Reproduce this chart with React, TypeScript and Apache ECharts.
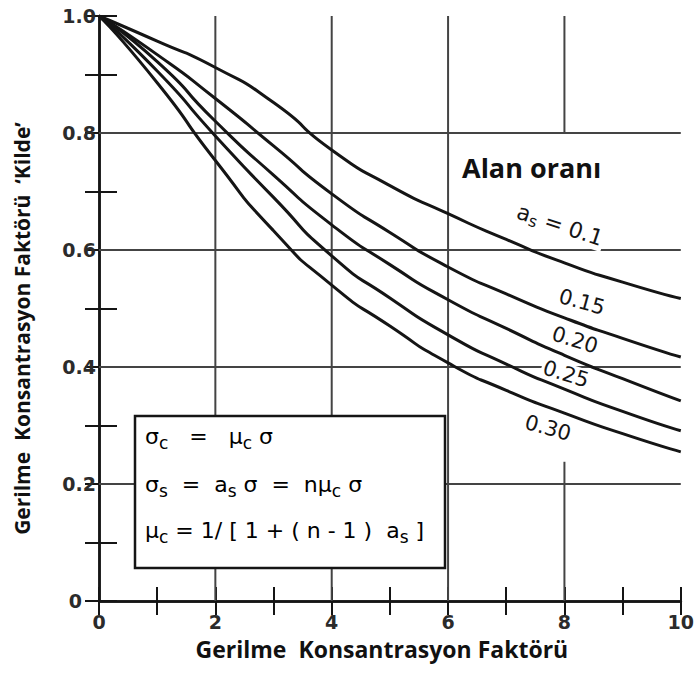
import React, { useEffect, useRef } from "react";
import * as echarts from "echarts";

// ---- data ----
const xs = [0, 1, 2, 3, 4, 5, 6, 7, 8, 9, 10];
const curve010 = [1, 0.957, 0.912, 0.852, 0.771, 0.71, 0.662, 0.618, 0.578, 0.545, 0.517];
const curve015 = [1, 0.934, 0.859, 0.778, 0.696, 0.63, 0.571, 0.525, 0.484, 0.449, 0.417];
const curve020 = [1, 0.922, 0.82, 0.728, 0.643, 0.575, 0.515, 0.466, 0.42, 0.38, 0.342];
const curve025 = [1, 0.906, 0.795, 0.69, 0.59, 0.518, 0.455, 0.405, 0.362, 0.324, 0.291];
const curve030 = [1, 0.886, 0.753, 0.633, 0.54, 0.47, 0.407, 0.36, 0.321, 0.286, 0.255];
const curves = [curve010, curve015, curve020, curve025, curve030];

// grid line segments: vertical [x, yFrom, yTo], horizontal [y, xFrom, xTo]
const gridV = [[2, 0, 1], [4, 0, 1], [6, 0, 1], [8, 0.8, 1], [8, 0, 0.238]];
const gridH = [[0.2, 0, 10], [0.4, 0, 10], [0.6, 0, 10], [0.8, 0, 10]];

const xTickLabels = ["0", "2", "4", "6", "8", "10"];

const HAND = "DejaVu Sans";
const BOLD = "Open Sans";
const INK = "#151515";

export default function App() {
  const ref = useRef<HTMLDivElement>(null);

  useEffect(() => {
    if (!ref.current) return;
    const chart = echarts.init(ref.current, undefined, { renderer: "svg" });

    const gridSeries: any[] = [];
    gridV.forEach(([x, y0, y1]) =>
      gridSeries.push({
        type: "line",
        data: [[x, y0], [x, y1]],
        symbol: "none",
        silent: true,
        z: 1,
        lineStyle: { color: "#444", width: 2 },
      })
    );
    gridH.forEach(([y, x0, x1]) =>
      gridSeries.push({
        type: "line",
        data: [[x0, y], [x1, y]],
        symbol: "none",
        silent: true,
        z: 1,
        lineStyle: { color: "#444", width: 2 },
      })
    );

    const curveSeries = curves.map((c) => ({
      type: "line",
      data: xs.map((x, i) => [x, c[i]]),
      smooth: 0.7,
      symbol: "none",
      silent: true,
      z: 4,
      lineStyle: { color: INK, width: 3 },
    }));

    const axisLine = { show: true, lineStyle: { color: INK, width: 2.5 } };
    const tick = { show: true, inside: true, length: 14, lineStyle: { color: INK, width: 2 } };
    const tickLabelStyle = {
      fontFamily: HAND,
      fontSize: 19,
      fontWeight: "bold" as const,
      color: "#2b2b2b",
    };

    const handText = (
      x: number,
      y: number,
      text: string,
      rotation: number,
      rich?: any
    ) => ({
      type: "text",
      x,
      y,
      rotation,
      z: 3,
      style: {
        text,
        fontFamily: HAND,
        fontSize: 21,
        fill: INK,
        align: "center",
        verticalAlign: "middle",
        backgroundColor: "#fff",
        padding: [0, 2],
        rich,
      },
    });

    const fRich = {
      m: { fontFamily: HAND, fontSize: 22, fill: "#000" },
      s: { fontFamily: HAND, fontSize: 17, fill: "#000", padding: [14, 0, 0, 0] },
    };

    const formula = (y: number, text: string) => ({
      type: "text",
      x: 145,
      y,
      z: 11,
      style: {
        text,
        align: "left",
        verticalAlign: "middle",
        rich: fRich,
      },
    });

    const titleStyle = { fontFamily: BOLD, fontSize: 23, fontWeight: "bold", color: "#111" };

    chart.setOption({
      animation: false,
      grid: { left: 99, right: 15, top: 16, bottom: 74, containLabel: false },
      xAxis: [
        {
          type: "value",
          min: 0,
          max: 10,
          interval: 1,
          position: "bottom",
          axisLine,
          axisTick: tick,
          splitLine: { show: false },
          axisLabel: {
            ...tickLabelStyle,
            margin: 11,
            formatter: (v: number) => (Math.round(v) % 2 === 0 ? xTickLabels[Math.round(v) / 2] : ""),
          },
          name: "Gerilme  Konsantrasyon Faktörü",
          nameLocation: "middle",
          nameGap: 36,
          nameTextStyle: { ...titleStyle, padding: [0, 16, 0, 0] },
        },
        {
          type: "value",
          min: 0,
          max: 10,
          interval: 1,
          position: "top",
          axisLine,
          axisTick: tick,
          splitLine: { show: false },
          axisLabel: { show: false },
        },
      ],
      yAxis: [
        {
          type: "value",
          min: 0,
          max: 1,
          interval: 0.1,
          position: "left",
          axisLine,
          axisTick: { ...tick, length: 18 },
          splitLine: { show: false },
          axisLabel: {
            ...tickLabelStyle,
            margin: 3,
            formatter: (v: number) => {
              const k = Math.round(v * 10);
              if (k % 2 !== 0) return "";
              if (k === 0) return "{z|0}";
              return (k / 10).toFixed(1);
            },
            rich: { z: { ...tickLabelStyle, padding: [0, 14, 0, 0] } },
          },
          name: "Gerilme  Konsantrasyon Faktörü  ‘Kilde’",
          nameLocation: "middle",
          nameGap: 67,
          nameTextStyle: { ...titleStyle, fontSize: 21, padding: [0, 40, 0, 0] },
        },
        {
          type: "value",
          min: 0,
          max: 1,
          interval: 0.1,
          position: "right",
          axisLine,
          axisTick: tick,
          splitLine: { show: false },
          axisLabel: { show: false },
        },
      ],
      series: [...gridSeries, ...curveSeries],
      graphic: [
        {
          type: "rect",
          z: 10,
          shape: { x: 135, y: 416, width: 310, height: 152 },
          style: { fill: "#fff", stroke: INK, lineWidth: 2.5 },
        },
        formula(436, "{m|σ}{s|c}{m|   =   μ}{s|c}{m| σ}"),
        formula(484, "{m|σ}{s|s}{m|  =  a}{s|s}{m| σ  =  nμ}{s|c}{m| σ}"),
        formula(530, "{m|μ}{s|c}{m| = 1/ [ 1 + ( n - 1 )  a}{s|s}{m| ]}"),
        {
          type: "text",
          x: 462,
          y: 167,
          z: 11,
          style: {
            text: "Alan oranı",
            fontFamily: BOLD,
            fontSize: 27,
            fontWeight: "bold",
            fill: "#111",
            align: "left",
            verticalAlign: "middle",
          },
        },
        handText(560, 225, "{a|a}{s|s}{a| = 0.1}", -0.32, {
          a: { fontFamily: HAND, fontSize: 22, fill: INK },
          s: { fontFamily: HAND, fontSize: 16, fill: INK, padding: [10, 0, 0, 0] },
        }),
        handText(582, 302, "0.15", -0.27),
        handText(575, 340, "0.20", -0.3),
        handText(566, 374, "0.25", -0.3),
        handText(548, 428, "0.30", -0.27),
      ],
    });

    return () => chart.dispose();
  }, []);

  return (
    <div
      ref={ref}
      style={{ position: "fixed", left: 0, top: 0, width: 697, height: 675, background: "#fff" }}
    />
  );
}
